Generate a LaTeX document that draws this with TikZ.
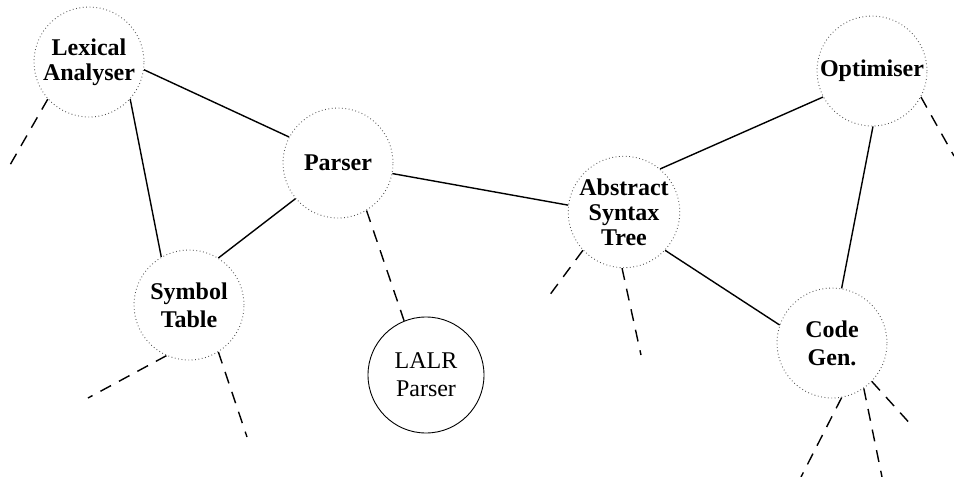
\documentclass[tikz,border=0pt]{standalone}
\usepackage{fontspec}
\setmainfont{Liberation Serif}
\usepackage{xcolor}
\definecolor{DotGray}{HTML}{505050}
\tikzset{
  stage/.style={circle,draw=DotGray,line width=0.9pt,
                dash pattern=on 0.8pt off 2.6pt,
                minimum size=110pt,inner sep=0pt,align=center,
                font=\fontsize{24}{28}\selectfont\bfseries},
  tool/.style={circle,draw=black,line width=0.9pt,minimum size=116pt,
               inner sep=0pt,align=center,font=\fontsize{24}{28}\selectfont},
  link/.style={line width=1.4pt},
  stub/.style={line width=1.4pt,dash pattern=on 12pt off 9pt},
}

\begin{document}
\begin{tikzpicture}[x=1pt,y=-1pt]
  \useasboundingbox (0,0) rectangle (954,477);

  \node[stage,font=\fontsize{24}{25}\selectfont\bfseries]
    (LEX) at (89,62) {Lexical\\Analyser};
  \node[stage] (PARS) at (338,163) {Parser};
  \node[stage] (SYM)  at (189,305) {Symbol\\Table};
  \node[tool]  (LALR) at (426,375) {LALR\\Parser};
  \node[stage,font=\fontsize{24}{25}\selectfont\bfseries]
    (AST) at (624,212) {Abstract\\Syntax\\Tree};
  \node[stage] (OPT)  at (872,71)  {Optimiser};
  \node[stage] (CGEN) at (832,343) {Code\\Gen.};

  \draw[link] (LEX.352)  -- (PARS.152);
  \draw[link] (LEX.318)  -- (SYM.120);
  \draw[link] (PARS.220) -- (SYM.58);
  \draw[link] (PARS.349) -- (AST.173);
  \draw[link] (AST.50)   -- (OPT.208);
  \draw[link] (AST.317)  -- (CGEN.161);
  \draw[link] (OPT.271)  -- (CGEN.80);

  \draw[stub] (PARS.301) -- (LALR.112);

  % loose ends
  \coordinate (lexA) at (10,165);
  \coordinate (symA) at (88,398);
  \coordinate (symB) at (247,437);
  \coordinate (astA) at (546,300);
  \coordinate (astB) at (641,355);
  \coordinate (optA) at (954,156);
  \coordinate (cgA)  at (801,477);
  \coordinate (cgB)  at (882,477);
  \coordinate (cgC)  at (914,428);

  \draw[stub] (LEX.222)  -- (lexA);
  \draw[stub] (SYM.246)  -- (symA);
  \draw[stub] (SYM.302)  -- (symB);
  \draw[stub] (AST.223)  -- (astA);
  \draw[stub] (AST.268)  -- (astB);
  \draw[stub] (OPT.332)  -- (optA);
  \draw[stub] (CGEN.280) -- (cgA);
  \draw[stub] (CGEN.305) -- (cgB);
  \draw[stub] (CGEN.316) -- (cgC);

\end{tikzpicture}
\end{document}
